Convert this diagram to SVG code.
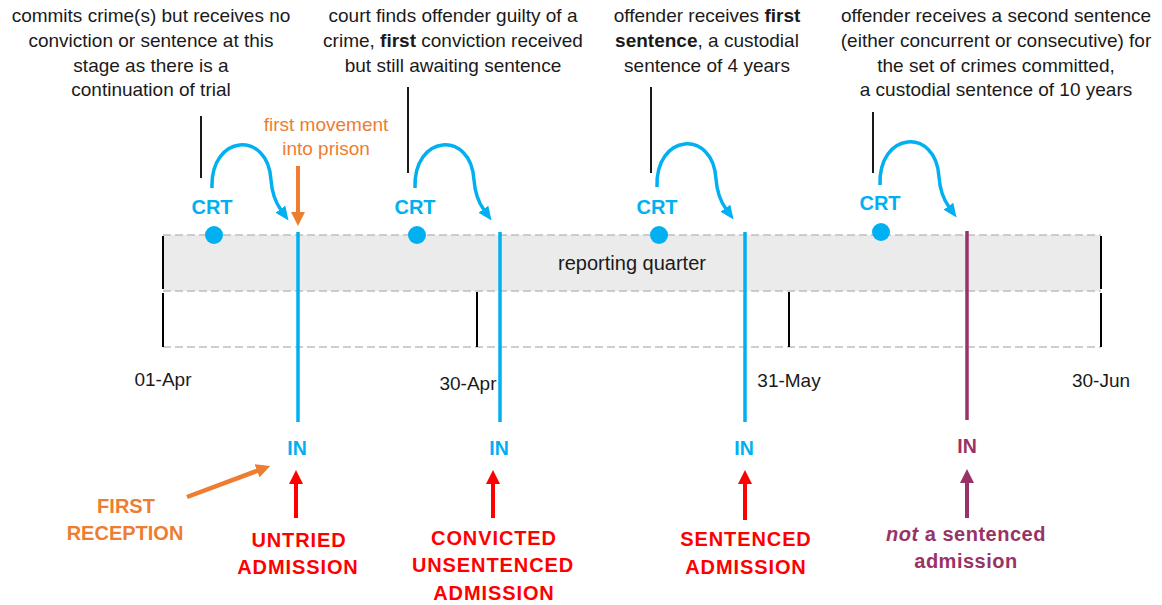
<svg xmlns="http://www.w3.org/2000/svg" width="1162" height="605" viewBox="0 0 1162 605">
<style>
text{font-family:"Liberation Sans",Arial,Helvetica,sans-serif}
.note{font-size:19px;fill:#1a1a1a;text-anchor:middle}
.date{font-size:19px;fill:#1a1a1a;text-anchor:middle}
.crt{font-size:20px;font-weight:bold;fill:#00B0F0;text-anchor:middle}
.in{font-size:19.5px;font-weight:bold;fill:#00B0F0;text-anchor:middle}
.lab{font-size:20px;font-weight:bold;text-anchor:middle;letter-spacing:0.9px}
.b{font-weight:bold}
.lead{stroke:#1a1a1a;stroke-width:2}
.tick{stroke:#000;stroke-width:2}
.dash{stroke:#bfbfbf;stroke-width:1.6;stroke-dasharray:8 4;fill:none}
.curve{fill:none;stroke:#00B0F0;stroke-width:3.5;marker-end:url(#hb)}
.dot{fill:#00B0F0}
.blue{stroke:#00B0F0;stroke-width:3.5}
.purp{stroke:#993366;stroke-width:3.5}
</style>
<defs>
<marker id="hb" markerUnits="userSpaceOnUse" markerWidth="14" markerHeight="12" viewBox="0 0 14 12" refX="1" refY="6" orient="auto"><path d="M0,0 L14,6 L0,12 z" fill="#00B0F0"/></marker>
<marker id="ho" markerUnits="userSpaceOnUse" markerWidth="14" markerHeight="14" viewBox="0 0 14 14" refX="1" refY="7" orient="auto"><path d="M0,0 L14,7 L0,14 z" fill="#ED7D31"/></marker>
<marker id="hr" markerUnits="userSpaceOnUse" markerWidth="14" markerHeight="14" viewBox="0 0 14 14" refX="1" refY="7" orient="auto"><path d="M0,0 L14,7 L0,14 z" fill="#FF0000"/></marker>
<marker id="hp" markerUnits="userSpaceOnUse" markerWidth="14" markerHeight="14" viewBox="0 0 14 14" refX="1" refY="7" orient="auto"><path d="M0,0 L14,7 L0,14 z" fill="#993366"/></marker>
</defs>

<g id="reporting-quarter">
<rect x="163" y="235" width="938" height="56" fill="#ebebeb"/>
<line class="dash" x1="163" y1="235" x2="1101" y2="235"/>
<line class="dash" x1="163" y1="291" x2="1101" y2="291"/>
<line class="dash" x1="163" y1="347" x2="1101" y2="347"/>
<text x="632" y="270" style="font-size:20px;fill:#1a1a1a;text-anchor:middle">reporting quarter</text>
</g>

<g id="ticks">
<line class="tick" x1="163" y1="236" x2="163" y2="289"/>
<line class="tick" x1="163" y1="293" x2="163" y2="347"/>
<line class="tick" x1="477" y1="292" x2="477" y2="347"/>
<line class="tick" x1="789" y1="292" x2="789" y2="347"/>
<line class="tick" x1="1101" y1="236" x2="1101" y2="289"/>
<line class="tick" x1="1101" y1="293" x2="1101" y2="347"/>
<text class="date" x="163" y="386">01-Apr</text>
<text class="date" x="468" y="390">30-Apr</text>
<text class="date" x="789" y="387">31-May</text>
<text class="date" x="1101" y="387">30-Jun</text>
</g>

<g id="note1">
<text class="note" x="151" y="22">commits crime(s) but receives no</text>
<text class="note" x="151" y="47">conviction or sentence at this</text>
<text class="note" x="151" y="72">stage as there is a</text>
<text class="note" x="151" y="96">continuation of trial</text>
</g>
<g id="note2">
<text class="note" x="453" y="22">court finds offender guilty of a</text>
<text class="note" x="453" y="47">crime, <tspan class="b">first</tspan> conviction received</text>
<text class="note" x="453" y="72">but still awaiting sentence</text>
</g>
<g id="note3">
<text class="note" x="707" y="22">offender receives <tspan class="b">first</tspan></text>
<text class="note" x="707" y="47"><tspan class="b">sentence</tspan>, a custodial</text>
<text class="note" x="707" y="72">sentence of 4 years</text>
</g>
<g id="note4">
<text class="note" x="996" y="22">offender receives a second sentence</text>
<text class="note" x="996" y="47">(either concurrent or consecutive) for</text>
<text class="note" x="996" y="72">the set of crimes committed,</text>
<text class="note" x="996" y="96">a custodial sentence of 10 years</text>
</g>

<g id="crt1"><circle class="dot" cx="214" cy="235" r="9"/><text class="crt" x="212" y="214">CRT</text></g>
<g id="crt2"><circle class="dot" cx="417" cy="235" r="9"/><text class="crt" x="415" y="214">CRT</text></g>
<g id="crt3"><circle class="dot" cx="659" cy="235" r="9"/><text class="crt" x="657" y="214">CRT</text></g>
<g id="crt4"><circle class="dot" cx="881" cy="232" r="9"/><text class="crt" x="880" y="210">CRT</text></g>

<g id="in1"><line class="blue" x1="298" y1="232" x2="298" y2="422"/><text class="in" x="297" y="455">IN</text></g>
<g id="in2"><line class="blue" x1="500" y1="232" x2="500" y2="422"/><text class="in" x="499" y="455">IN</text></g>
<g id="in3"><line class="blue" x1="745" y1="232" x2="745" y2="422"/><text class="in" x="744" y="455">IN</text></g>
<g id="in4"><line class="purp" x1="967" y1="231" x2="967" y2="420"/><text class="in" x="967" y="453" style="fill:#993366">IN</text></g>

<g id="label-first-movement">
<text x="326" y="131" style="font-size:19px;fill:#ED7D31;text-anchor:middle">first movement</text>
<text x="326" y="155" style="font-size:19px;fill:#ED7D31;text-anchor:middle">into prison</text>
</g>
<g id="label-first-reception">
<text class="lab" x="126" y="513" style="fill:#ED7D31;letter-spacing:0">FIRST</text>
<text class="lab" x="125" y="540" style="fill:#ED7D31;letter-spacing:0">RECEPTION</text>
</g>
<g id="label-untried">
<text class="lab" x="299" y="547" style="fill:#FF0000">UNTRIED</text>
<text class="lab" x="298" y="574" style="fill:#FF0000">ADMISSION</text>
</g>
<g id="label-convicted">
<text class="lab" x="494" y="545" style="fill:#FF0000">CONVICTED</text>
<text class="lab" x="493" y="572" style="fill:#FF0000">UNSENTENCED</text>
<text class="lab" x="494" y="600" style="fill:#FF0000">ADMISSION</text>
</g>
<g id="label-sentenced">
<text class="lab" x="746" y="546" style="fill:#FF0000">SENTENCED</text>
<text class="lab" x="746" y="574" style="fill:#FF0000">ADMISSION</text>
</g>
<g id="label-not-sentenced">
<text class="lab" x="966" y="541" style="fill:#993366;letter-spacing:0.5px"><tspan font-style="italic">not</tspan> a sentenced</text>
<text class="lab" x="966" y="568" style="fill:#993366;letter-spacing:0.5px">admission</text>
</g>

<g id="connectors">
<line class="lead" x1="201" y1="116" x2="201" y2="178"/>
<line class="lead" x1="408" y1="87" x2="408" y2="173"/>
<line class="lead" x1="651" y1="87" x2="651" y2="173"/>
<line class="lead" x1="873" y1="112" x2="873" y2="173"/>
<path class="curve" d="M212,188 C210,134 268,130 271,180 C272,194 276,203 281,210"/>
<path class="curve" d="M415,188 C413,134 471,130 474,180 C475,194 479,203 484,210"/>
<path class="curve" d="M657,187 C655,133 713,129 716,179 C717,193 721,202 726,209"/>
<path class="curve" d="M880,185 C878,131 936,127 939,177 C940,191 944,200 949,207"/>
<line x1="298" y1="166" x2="298" y2="213" stroke="#ED7D31" stroke-width="4" marker-end="url(#ho)"/>
<line x1="187" y1="497" x2="258" y2="470.5" stroke="#ED7D31" stroke-width="4.5" marker-end="url(#ho)"/>
<line x1="296" y1="518" x2="296" y2="483" stroke="#FF0000" stroke-width="4" marker-end="url(#hr)"/>
<line x1="493" y1="518" x2="493" y2="483" stroke="#FF0000" stroke-width="4" marker-end="url(#hr)"/>
<line x1="745" y1="520" x2="745" y2="483" stroke="#FF0000" stroke-width="4" marker-end="url(#hr)"/>
<line x1="967" y1="518" x2="967" y2="482" stroke="#993366" stroke-width="4" marker-end="url(#hp)"/>
</g>
</svg>
